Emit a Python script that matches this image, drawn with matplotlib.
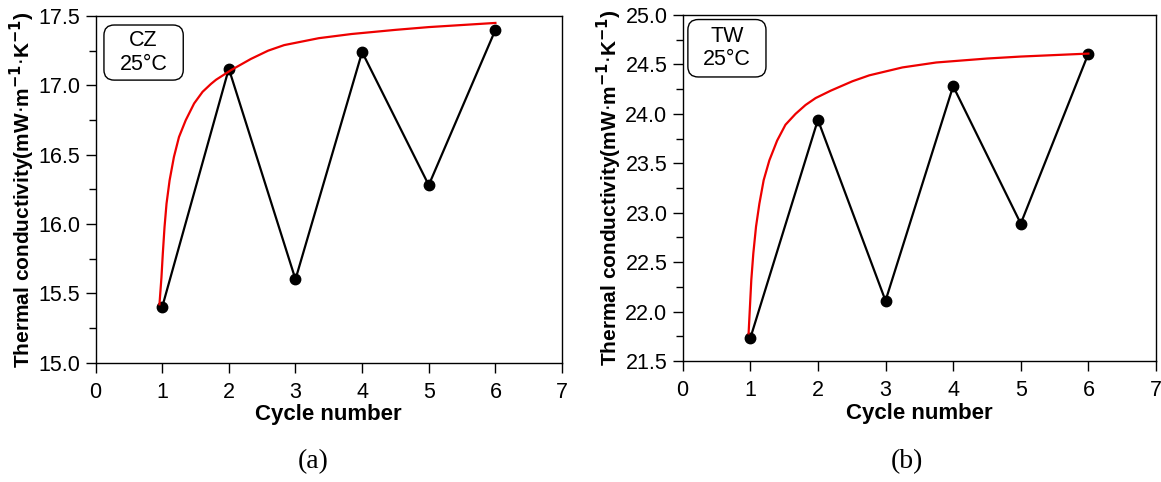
import matplotlib.pyplot as plt
from matplotlib.patches import FancyBboxPatch
from matplotlib.ticker import MultipleLocator

plt.rcParams["font.family"] = ["Liberation Sans", "DejaVu Sans"]

cycles = [1, 2, 3, 4, 5, 6]

# measured values
cz_values = [15.40, 17.12, 15.60, 17.24, 16.28, 17.40]
tw_values = [21.73, 23.94, 22.11, 24.28, 22.89, 24.61]

# red fitted curves
cz_fit_x = [0.959, 0.989, 1.009, 1.035, 1.065, 1.111, 1.176, 1.252, 1.353, 1.479,
            1.606, 1.732, 1.808, 2.035, 2.33, 2.59, 2.83, 3.35, 3.84, 4.5, 5.0, 6.0]
cz_fit_y = [15.42, 15.615, 15.784, 15.977, 16.146, 16.314, 16.483, 16.627, 16.748, 16.869,
            16.953, 17.01, 17.04, 17.11, 17.19, 17.25, 17.29, 17.34, 17.37, 17.40, 17.42, 17.45]
tw_fit_x = [0.975, 0.995, 1.015, 1.045, 1.085, 1.134, 1.198, 1.282, 1.397, 1.52,
            1.669, 1.817, 1.966, 2.19, 2.51, 2.76, 3.25, 3.75, 4.5, 5.0, 6.0]
tw_fit_y = [21.78, 22.05, 22.32, 22.59, 22.86, 23.09, 23.33, 23.53, 23.73, 23.89,
            24.0, 24.09, 24.16, 24.235, 24.33, 24.39, 24.47, 24.52, 24.56, 24.58, 24.61]

panels = [
    dict(rect=[0.0823, 0.2479, 0.4018, 0.7189], y=cz_values, fx=cz_fit_x, fy=cz_fit_y,
         ylim=(15.0, 17.5), label="CZ\n25°C", box=(0.018, 0.815, 0.170, 0.159),
         tag="(a)", tag_x=0.27),
    dict(rect=[0.588, 0.251, 0.4077, 0.7178], y=tw_values, fx=tw_fit_x, fy=tw_fit_y,
         ylim=(21.5, 25.0), label="TW\n25°C", box=(0.011, 0.821, 0.165, 0.166),
         tag="(b)", tag_x=0.781),
]

fig = plt.figure(figsize=(11.61, 4.82), dpi=100)

for p in panels:
    ax = fig.add_axes(p["rect"])
    ax.plot(cycles, p["y"], color="black", lw=1.6, marker="o", ms=7.5, zorder=3)
    ax.plot(p["fx"], p["fy"], color="#ee0000", lw=1.6, zorder=4)
    ax.set_xlim(0, 7)
    ax.set_ylim(*p["ylim"])
    ax.xaxis.set_major_locator(MultipleLocator(1))
    ax.yaxis.set_major_locator(MultipleLocator(0.5))
    ax.yaxis.set_minor_locator(MultipleLocator(0.25))
    ax.yaxis.set_major_formatter(plt.FormatStrFormatter("%.1f"))
    ax.tick_params(direction="out", length=7, width=1, labelsize=15.5, pad=4)
    ax.tick_params(axis="x", pad=7)
    ax.tick_params(which="minor", direction="out", length=5, width=1)
    for s in ax.spines.values():
        s.set_linewidth(1.0)
    ax.set_xlabel("Cycle number", fontsize=16, fontweight="bold", labelpad=1)
    ax.set_ylabel(r"Thermal conductivity(mW$\cdot$m$^{\mathbf{-1}}$$\cdot$K$^{\mathbf{-1}}$)",
                  fontsize=15, fontweight="bold", labelpad=1)

    bx, by, bw, bh = p["box"]
    aspect = (p["rect"][2] * 1161) / (p["rect"][3] * 482)
    patch = FancyBboxPatch((bx, by), bw, bh, boxstyle="round,pad=0,rounding_size=0.022",
                           mutation_aspect=aspect, transform=ax.transAxes,
                           facecolor="white", edgecolor="black", lw=1.0, zorder=5)
    ax.add_patch(patch)
    ax.text(bx + bw / 2, by + bh / 2, p["label"], transform=ax.transAxes,
            ha="center", va="center", fontsize=15.5, linespacing=1.15, zorder=6)

    fig.text(p["tag_x"], 0.042, p["tag"], ha="center", va="center",
             fontsize=20, family=["Liberation Serif", "DejaVu Serif"])

fig.savefig("out.png", dpi=100)
plt.close(fig)
